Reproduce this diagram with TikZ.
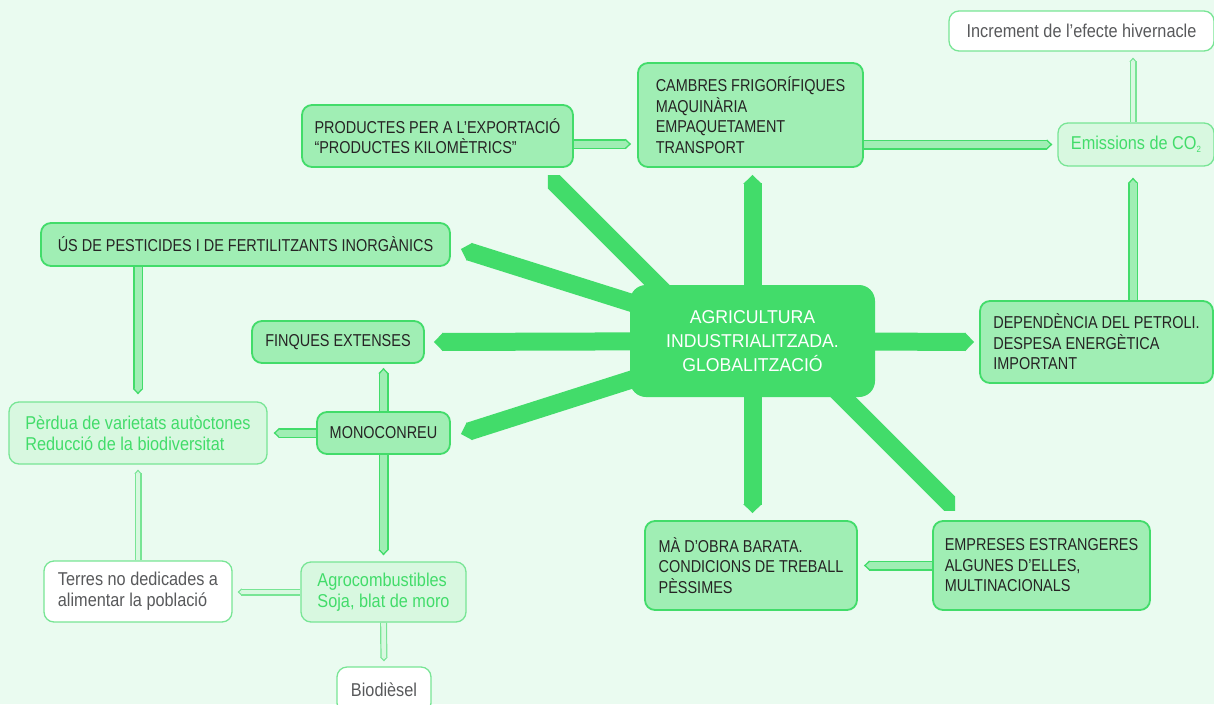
\documentclass[tikz,border=0pt]{standalone}
\usepackage{fontspec}
\setmainfont{Liberation Sans}[FakeStretch=0.84]
\newfontfamily\lowfamily{Liberation Sans}[FakeStretch=0.875]
\newfontfamily\agrifamily{Liberation Sans}[FakeStretch=0.95]
\usetikzlibrary{arrows.meta,calc,backgrounds}

\definecolor{agreen}{HTML}{42DC6A}
\definecolor{boxfill}{HTML}{A0EEB4}
\definecolor{lightfill}{HTML}{D8F8E0}
\definecolor{lightedge}{HTML}{78E595}
\definecolor{bgmint}{HTML}{EAFBF0}
\definecolor{capstext}{HTML}{262324}
\definecolor{graytext}{HTML}{58595B}

\newcommand{\capsfont}{\fontsize{17.2}{20.5}\selectfont}
\newcommand{\lowfont}{\lowfamily\fontsize{18.6}{21.3}\selectfont}
\newcommand{\agrifont}{\agrifamily\fontsize{18.6}{24.3}\selectfont}

\tikzset{
  sz/.style 2 args={minimum width=#1pt, minimum height=#2pt},
  box/.style={rectangle, rounded corners=10pt, align=left, inner xsep=8pt, inner ysep=0pt},
  capsbox/.style={box, draw=agreen, line width=1.8pt, fill=boxfill, text=capstext, font=\capsfont},
  lightbox/.style={box, draw=lightedge, line width=1.3pt, fill=lightfill, text=agreen, font=\lowfont},
  whitebox/.style={box, draw=lightedge, line width=1.3pt, fill=white, text=graytext, font=\lowfont},
  spoke/.style={line width=18pt, draw=agreen, line cap=butt, -{Triangle[length=0pt .5,width=0pt 1]}},
  link/.style={line width=10pt, draw=agreen, -{Triangle[length=0pt .55,width=0pt 1]}, shorten >=#1,
    postaction={draw=boxfill, line width=7pt, shorten >=#1+2.2pt}},
  thinlink/.style={line width=7pt, draw=lightedge, -{Triangle[length=0pt .55,width=0pt 1]}, shorten >=#1,
    postaction={draw=lightfill, line width=4.6pt, shorten >=#1+1.8pt}}
}

\begin{document}
\begin{tikzpicture}[x=1pt,y=-1pt]
	\useasboundingbox (0,0) rectangle (1214,704);

	% central node
	\node[box, fill=agreen, text=white, align=center, rounded corners=16pt, font=\agrifont, sz={245}{112}] (agri) at (752.5,341)
		{AGRICULTURA\\INDUSTRIALITZADA.\\GLOBALITZACIÓ};

	% top
	\node[capsbox, sz={271}{62}] (prod) at (437.5,136) {PRODUCTES PER A L’EXPORTACIÓ\\“PRODUCTES KILOMÈTRICS”};
	\node[capsbox, sz={225}{104}] (cambres) at (750.5,115) {CAMBRES FRIGORÍFIQUES\\MAQUINÀRIA\\EMPAQUETAMENT\\TRANSPORT};
	\node[lightbox, sz={156}{43}] (emis) at (1136,144.5) {Emissions de CO\raisebox{-3pt}{\fontsize{9}{9}\selectfont 2}};
	\node[whitebox, sz={265}{40}] (incr) at (1081.5,31) {Increment de l’efecte hivernacle};
	\node[capsbox, sz={233}{82}] (dep) at (1096.5,342) {DEPENDÈNCIA DEL PETROLI.\\DESPESA ENERGÈTICA\\IMPORTANT};

	% left
	\node[capsbox, sz={409}{43}] (us) at (245.5,244.5) {ÚS DE PESTICIDES I DE FERTILITZANTS INORGÀNICS};
	\node[capsbox, sz={172}{42}] (finq) at (338,342) {FINQUES EXTENSES};
	\node[capsbox, sz={133}{42}] (mono) at (383.5,433) {MONOCONREU};
	\node[lightbox, sz={258}{62}] (perd) at (138,433) {Pèrdua de varietats autòctones\\Reducció de la biodiversitat};
	\node[whitebox, sz={188}{61}] (terres) at (138,591.5) {Terres no dedicades a\\alimentar la població};
	\node[lightbox, sz={165}{60}] (agro) at (383.5,592) {Agrocombustibles\\Soja, blat de moro};
	\node[whitebox, sz={94}{46}] (bio) at (384,690) {Biodièsel};

	% bottom
	\node[capsbox, sz={212}{89}] (ma) at (751,565.5) {MÀ D’OBRA BARATA.\\CONDICIONS DE TREBALL\\PÈSSIMES};
	\node[capsbox, sz={217}{89}] (emp) at (1041.5,565.5) {EMPRESES ESTRANGERES\\ALGUNES D’ELLES,\\MULTINACIONALS};

	\begin{scope}[on background layer]
		\fill[bgmint] (0,0) rectangle (1214,704);
		% spokes
		\draw[spoke] (agri.center) -- ($(us.east)+(10,4.5)$);
		\draw[spoke] (agri.center) -- ($(finq.east)+(9,0)$);
		\draw[spoke] (agri.center) -- ($(mono.east)+(10,1)$);
		\draw[spoke] (agri.center) -- ($(dep.west)+(-5,0)$);
		\draw[spoke] (agri.center) -- ($(agri.center |- cambres.south)+(0,7)$);
		\draw[spoke] (agri.center) -- ($(agri.center |- ma.north)+(0,-7)$);
		\begin{scope}
			\clip ($(prod.south east)+(-26,8)$) rectangle (agri.center);
			\draw[spoke,-] ($(prod.south east)+(-34,0)$) -- ($(agri.north west)+(60,33)$);
		\end{scope}
		\begin{scope}
			\clip (agri.center) rectangle ($(emp.north west)+(23,-10)$);
			\draw[spoke,-] ($(agri.south east)+(-55,-23)$) -- ($(emp.north west)+(33,-1)$);
		\end{scope}
		% links
		\draw[link=6pt] ([yshift=-8pt]prod.east) -- ([yshift=-8pt]prod.east -| cambres.west);
		\draw[link=5pt] (cambres.east |- emis.west) -- (emis.west);
		\draw[link=11pt] ([xshift=-3pt]emis.south |- dep.north) -- ([xshift=-3pt]emis.south);
		\draw[link=7pt] (us.south -| perd.north) -- (perd.north);
		\draw[link=4pt] (mono.north) -- (mono.north |- finq.south);
		\draw[link=6pt] (mono.west) -- (mono.west -| perd.east);
		\draw[link=6pt] (mono.south) -- (agro.north);
		\draw[link=6pt] (emp.west) -- (emp.west -| ma.east);
		\draw[thinlink=6pt] ([xshift=-3pt]emis.north) -- ([xshift=-3pt]emis.north |- incr.south);
		\draw[thinlink=5pt] (terres.north) -- (perd.south);
		\draw[thinlink=5pt] (agro.west) -- (agro.west -| terres.east);
		\draw[thinlink=5pt] (agro.south) -- (bio.north);
	\end{scope}
\end{tikzpicture}
\end{document}
